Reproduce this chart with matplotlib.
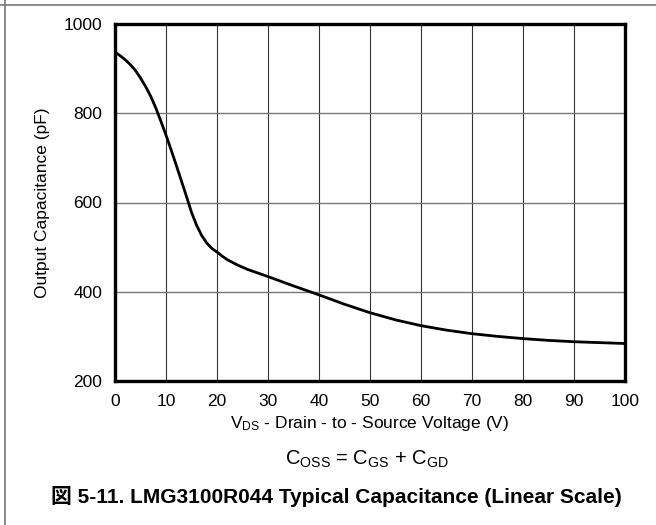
import matplotlib
matplotlib.use('Agg')
import matplotlib.pyplot as plt
from matplotlib.lines import Line2D

plt.rcParams['font.family'] = ['Liberation Sans', 'Noto Sans CJK JP', 'DejaVu Sans']
plt.rcParams['mathtext.fontset'] = 'custom'
plt.rcParams['mathtext.rm'] = 'Liberation Sans'
plt.rcParams['mathtext.it'] = 'Liberation Sans:italic'
plt.rcParams['mathtext.bf'] = 'Liberation Sans:bold'

# Coss vs Vds
vds = [0, 1, 2, 3, 4, 5, 6, 7, 8, 9, 10, 11, 12, 13, 14, 15, 16, 17, 18, 19,
       20, 21, 22, 24, 26, 28, 30, 35, 40, 45, 50, 55, 60, 65, 70, 75, 80,
       85, 90, 95, 100]
coss = [937, 929, 920, 909, 896, 879, 860, 838, 812, 782, 751, 718, 684, 649,
        614, 578, 549, 526, 509, 497, 489, 480, 472, 460, 450, 442, 434, 413,
        393, 372, 353, 337, 324, 314, 306, 300, 295, 291, 288, 286, 284]

x_ticks = [0, 10, 20, 30, 40, 50, 60, 70, 80, 90, 100]
y_ticks = [200, 400, 600, 800, 1000]

fig = plt.figure(figsize=(6.56, 5.25), dpi=100)
ax = fig.add_axes([115 / 656, 1 - 381 / 525, 510 / 656, 357 / 525])

ax.plot(vds, coss, color='black', linewidth=2.0, zorder=3)

ax.set_xlim(0, 100)
ax.set_ylim(200, 1000)
ax.set_xticks(x_ticks)
ax.set_yticks(y_ticks)
ax.tick_params(length=0, labelsize=12.5, pad=9)

for xv in x_ticks[1:-1]:
    ax.axvline(xv, color='#333333', linewidth=0.8, zorder=1)
for yv in y_ticks[1:-1]:
    ax.axhline(yv, color='#777777', linewidth=1.0, zorder=1)

for s in ax.spines.values():
    s.set_linewidth(2.4)
    s.set_color('black')

ax.set_xlabel(r'V$_{\mathrm{DS}}$ - Drain - to - Source Voltage (V)', fontsize=12.5, labelpad=4)
ax.set_ylabel('Output Capacitance (pF)', fontsize=12.5, labelpad=10)

fig.text(367 / 656, 1 - 465 / 525,
         r'C$_{\mathrm{OSS}}$ = C$_{\mathrm{GS}}$ + C$_{\mathrm{GD}}$',
         ha='center', va='baseline', fontsize=14.5)
fig.text(336 / 656, 1 - 503 / 525,
         '図 5-11. LMG3100R044 Typical Capacitance (Linear Scale)',
         ha='center', va='baseline', fontsize=15, fontweight='bold',
         family=['Liberation Sans', 'Noto Sans CJK JP'])

# moldura cinza (topo e esquerda)
fig.add_artist(Line2D([0, 1], [1 - 4.5 / 525, 1 - 4.5 / 525], transform=fig.transFigure,
                      color='#777777', linewidth=1.2))
fig.add_artist(Line2D([4.5 / 656, 4.5 / 656], [0, 1], transform=fig.transFigure,
                      color='#777777', linewidth=1.2))

fig.savefig('out.png', dpi=100)
